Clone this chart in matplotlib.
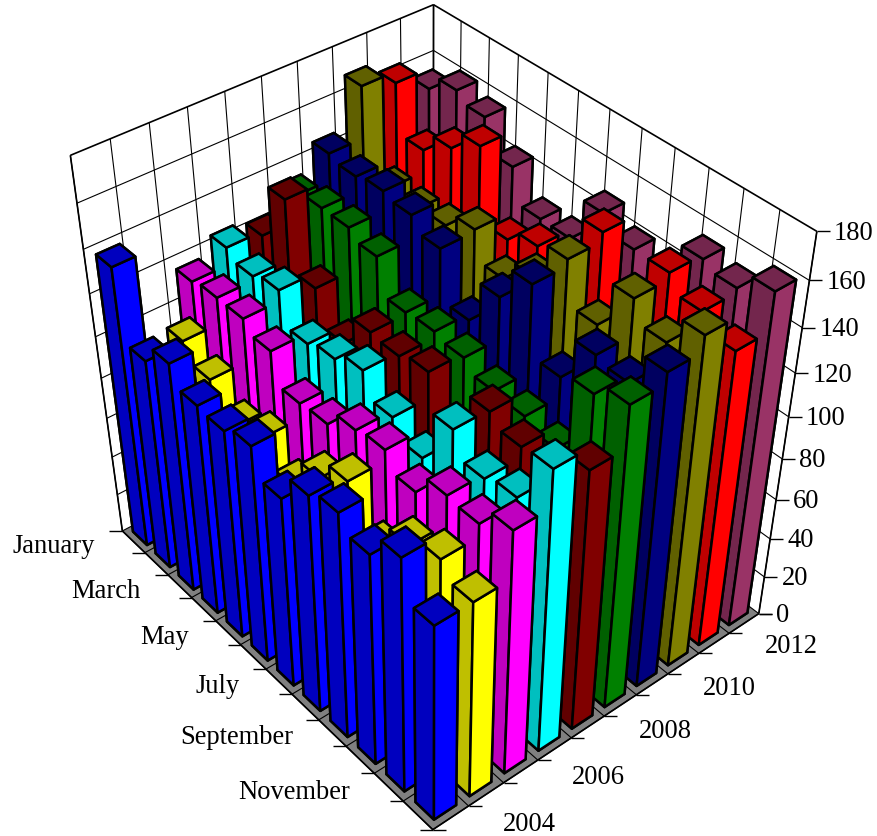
import numpy as np
import matplotlib
matplotlib.use('Agg')
import matplotlib.pyplot as plt
from mpl_toolkits.mplot3d import Axes3D
from mpl_toolkits.mplot3d.art3d import Poly3DCollection, Line3DCollection

W, H = 877, 837
months = ['January','February','March','April','May','June','July','August','September','October','November','December']
years = list(range(2003, 2013))
colors = ['#0000ff','#ffff00','#ff00ff','#00ffff','#800000','#008000','#000080','#808000','#ff0000','#993366']
v2003 = [138,105,114,105,104,108,95,108,112,105,116,98]
v2004 = [80,106,98,87,92,80,95,105,85,99,105,98]
v2005 = [116,118,118,113,99,100,108,110,102,112,111,120]
v2006 = [124,120,123,108,111,116,105,97,121,110,113,137]
v2007 = [122,147,116,100,115,114,117,90,120,115,85,127]
v2008 = [133,136,136,132,116,117,115,110,109,105,140,146]
v2009 = [145,143,145,143,137,114,134,149,118,138,136,151]
v2010 = [168,131,130,131,138,125,135,152,133,154,145,158]
v2011 = [163,141,150,159,126,132,100,156,105,157,150,143]
v2012 = [154,161,157,143,128,128,148,141,120,155,152,160]
series = [v2003,v2004,v2005,v2006,v2007,v2008,v2009,v2010,v2011,v2012]
z_ticks = list(range(0,181,20))

# camera calibration: (month axis, year axis, value) -> picture pixel
cal = [((12,0,0),(432,830)),((0,0,0),(122.5,532)),((12,10,0),(760,613)),
       ((0,0,180),(70.5,155.5)),((0,10,180),(433,6)),((12,10,180),(818,232)),
       ((12,10,80),(784,459)),((0,10,160),(433,52)),((0,0,160),(77,203)),
       ((0,1,180),(110.7,140)),((0,9,180),(400,19)),((11,10,180),(779,212)),((10,10,180),(744,190)),
       ((6,0,0),(267.6,672)),((12,5,0),(601,718))]
A=[]
for (x,y,z),(u,v) in cal:
    X=[x/12,y/10,z/180,1]
    u/=1000; v/=1000
    A.append(X+[0,0,0,0]+[-u*c for c in X])
    A.append([0,0,0,0]+X+[-v*c for c in X])
p=np.linalg.svd(np.array(A))[2][-1].reshape(3,4)
p=p@np.diag([1/12,1/10,1/180,1])
p[:2]*=1000
if p[2,3]<0: p=-p
P=p/p[2,3]
def proj(x,y,z):
    q=P@np.array([x,y,z,1.0]); return q[:2]/q[2]
def unproject(px,py,axis,val):
    idx=[i for i in range(3) if i!=axis]
    r=np.array([px,py,1.0])
    B=np.zeros((2,2)); c=np.zeros(2)
    for k in range(2):
        row=P[k]-r[k]*P[2]
        B[k]=row[idx]; c[k]=-(row[3]+row[axis]*val)
    s=np.linalg.solve(B,c)
    out=[0.0,0.0,0.0]; out[axis]=val; out[idx[0]]=s[0]; out[idx[1]]=s[1]
    return out

fig=plt.figure(figsize=(W/100,H/100),dpi=100)
ax=fig.add_axes([0,0,1,1],projection='3d',computed_zorder=False)
def get_proj():
    D=np.array([[1,0,0],[0,-1,H],[0,0,1.0]])
    T=ax.transData.inverted().get_matrix()
    Q=T@D@P
    return np.vstack([Q[0],Q[1],Q[2]-np.array([0,0,0,1.0]),Q[2]])
ax.get_proj=get_proj
ax.set_axis_off()

wall=[[(0,0,0),(0,10,0),(0,10,180),(0,0,180)],[(0,10,0),(12,10,0),(12,10,180),(0,10,180)]]
ax.add_collection3d(Poly3DCollection(wall,facecolors='white',edgecolors='none',zorder=0))
floor=[[(0,0,0),(12,0,0),(12,10,0),(0,10,0)]]
ax.add_collection3d(Poly3DCollection(floor,facecolors='#808080',edgecolors='none',zorder=1))

grid=[]
for z in z_ticks[1:-1]:
    grid.append([(0,0,z),(0,10,z)]); grid.append([(0,10,z),(12,10,z)])
for y in range(11):
    grid.append([(0,y,0),(0,y,180)]); grid.append([(0,y,0),(12,y,0)])
for x in range(13):
    grid.append([(x,10,0),(x,10,180)]); grid.append([(x,0,0),(x,10,0)])
ax.add_collection3d(Line3DCollection(grid,colors='black',linewidths=0.8,zorder=2))
outline=[[(0,0,180),(0,10,180)],[(0,10,180),(12,10,180)],[(12,10,180),(12,10,0)],
         [(0,0,0),(0,0,180)],[(0,10,0),(0,10,180)],[(0,0,0),(12,0,0)],[(12,0,0),(12,10,0)]]
ax.add_collection3d(Line3DCollection(outline,colors='black',linewidths=1.2,zorder=3))

STUB=13
ticks=[]
for x in range(13):
    u,v=proj(x,0,0)
    ticks.append([(x,0,0),tuple(unproject(u-STUB,v,2,0))])
for y in range(11):
    u,v=proj(12,y,0)
    ticks.append([(12,y,0),tuple(unproject(u+STUB,v,2,0))])
for z in z_ticks:
    u,v=proj(12,10,z)
    ticks.append([(12,10,z),tuple(unproject(u+STUB,v,0,12))])
ax.add_collection3d(Line3DCollection(ticks,colors='black',linewidths=1.0,zorder=3))

FS=19.1
FF='Liberation Serif'
def label(px,py,s,ha):
    ax.text2D(px/W,1-py/H,s,transform=fig.transFigure,ha=ha,va='center',fontsize=FS,family=FF,color='black')
for z in z_ticks:
    u,v=proj(12,10,z)
    label(u+STUB+4,v+1,str(z),'left')
for i in range(0,12,2):
    u,v=proj(i+0.5,0,0)
    label(u-39,v+4,months[i],'right')
for i in range(1,10,2):
    u,v=proj(12,i+0.5,0)
    t=(i-1)/8
    label(u+21-4.5*(1-t),v+22+7*(1-t),str(years[i]),'left')

BW=0.62
G=(1-BW)/2
order=0
for m in range(12):
    for yi in range(9,-1,-1):
        base=np.array(matplotlib.colors.to_rgba(colors[yi]))
        dark=base*np.array([.75,.75,.75,1])
        cols=[dark,dark,dark,dark,dark,base]
        c=ax.bar3d(m+G,yi+G,0,BW,BW,series[yi][m],color=cols,edgecolor='black',linewidth=1.8,shade=False)
        c.set_zorder(10+order); order+=1
ax.set_xlim(0,12);ax.set_ylim(0,10);ax.set_zlim(0,180)
fig.savefig('out.png',dpi=100)
